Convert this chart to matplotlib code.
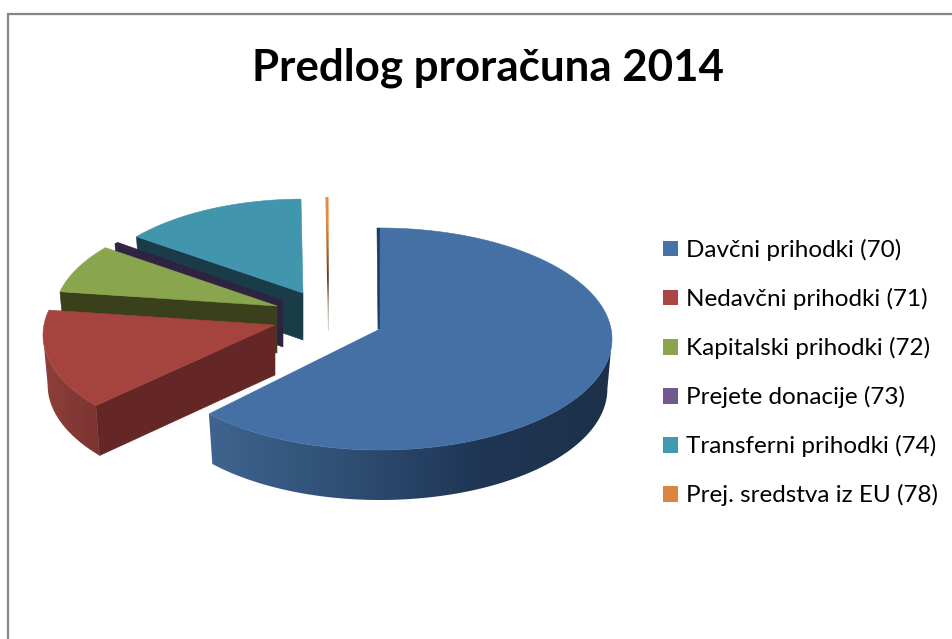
import numpy as np
import matplotlib
matplotlib.use("Agg")
import matplotlib.pyplot as plt
from matplotlib.colors import LinearSegmentedColormap
from matplotlib.patches import Patch, Polygon

title = "Predlog proračuna 2014"
labels = ["Davčni prihodki (70)", "Nedavčni prihodki (71)", "Kapitalski prihodki (72)",
          "Prejete donacije (73)", "Transferni prihodki (74)", "Prej. sredstva iz EU (78)"]
shares = [63.2, 15.4, 7.4, 0.3, 13.55, 0.15]

colors = ["#4572a7", "#aa4643", "#89a54e", "#71588f", "#4198af", "#db843d"]
top_colors = ["#4470a5", "#a5443f", "#89a54e", "#2e2340", "#4195ad", "#e8883c"]
wall_colors = ["#1c3a5c", "#642725", "#3a3f1c", "#2e2340", "#1a3b48", "#cfc6bc"]
# left to right shading of the curved walls
blue_arc = ["#3f648f", "#2f4f74", "#1f3655", "#1c3048"]
red_arc = ["#8f3f3b", "#7b3431"]
orange_wall = ["#e8883c", "#e8883c", "#a8672c", "#5e3a18", "#b3a293", "#e4dfda"]

# exploded position of each slice tip, and the perspective scale of each slice
tip_x = [380, 275, 277, 283, 303, 328]
tip_y = [329, 325, 306, 301, 293, 291]
scale = [1.0, 1.0, 0.96, 0.94, 0.93, 0.93]
depth = [50, 50, 47, 46, 47, 40]
start_nudge = [0, 3, 0, 0, -1.2, 0]
draw_order = [4, 5, 3, 2, 1, 0]

rx, ry, lift = 232, 111, 10
bottom_shrink = 0.98


def ring(theta, i, drop=False):
    t = np.radians(theta)
    s = scale[i]
    x = s * rx * np.sin(t)
    y = s * (lift - ry * np.cos(t))
    if drop:
        return tip_x[i] + x * bottom_shrink, tip_y[i] + y + depth[i]
    return tip_x[i] + x, tip_y[i] + y


def shade(pts, stops, z, vertical=False):
    # smooth gradient clipped to a polygon
    pts = np.asarray(pts)
    cmap = LinearSegmentedColormap.from_list("wall", stops)
    grad = np.linspace(0, 1, 256).reshape(-1, 1) if vertical else np.linspace(0, 1, 256).reshape(1, -1)
    x_lo, x_hi = pts[:, 0].min(), pts[:, 0].max()
    y_lo, y_hi = pts[:, 1].min(), pts[:, 1].max()
    im = ax.imshow(grad, cmap=cmap, extent=(x_lo, x_hi, y_hi, y_lo), aspect="auto",
                   origin="upper", zorder=z, interpolation="bilinear")
    clip = Polygon(pts, closed=True, transform=ax.transData, fc="none", ec="none")
    ax.add_patch(clip)
    im.set_clip_path(clip)


fig = plt.figure(figsize=(9.53, 6.39), dpi=100)
ax = fig.add_axes([0, 0, 1, 1])
ax.axis("off")

ax.plot([8, 8, 953], [639, 14, 14], color="#868686", lw=1.6, solid_joinstyle="miter")

ends = np.cumsum(shares) / np.sum(shares) * 360
starts = np.r_[0, ends[:-1]] + np.array(start_nudge)

for i in draw_order:
    a, b = starts[i], ends[i]
    tx, ty = tip_x[i], tip_y[i]
    z = 4 + draw_order.index(i) * 3

    # wall along the clockwise start edge of the slice
    x0, y0 = ring(a, i)
    x1, y1 = ring(a, i, drop=True)
    wall = [(tx, ty), (x0, y0), (x1, y1), (tx, ty + depth[i])]
    if i == 0:
        wall = [(tx, ty), (x0, y0), (x0 - 3, y0), (tx - 2, ty)]
    if i == 5:
        xe, ye = ring(b, i)
        shade([(x0 - 0.5, y0), (xe + 0.5, ye), (tx + 1, ty + depth[i]), (tx, ty + depth[i])],
              orange_wall, z, vertical=True)
    else:
        ax.add_patch(Polygon(wall, closed=True, fc=wall_colors[i], ec=wall_colors[i], lw=0.4, zorder=z))

    # curved outer wall, only the part that faces the viewer
    lo, hi = max(a, 90), min(b, 270)
    if hi > lo and i in (0, 1):
        th = np.linspace(lo, hi, 200)
        ux, uy = ring(th, i)
        vx, vy = ring(th, i, drop=True)
        pts = np.column_stack([np.r_[ux, vx[::-1]], np.r_[uy, vy[::-1]]])
        shade(pts, blue_arc if i == 0 else red_arc, z + 1)

    # top face
    if i != 5:
        th = np.linspace(a, b, 200)
        ux, uy = ring(th, i)
        pts = np.column_stack([np.r_[tx, ux], np.r_[ty, uy]])
        ax.add_patch(Polygon(pts, closed=True, fc=top_colors[i], ec=top_colors[i], lw=0.4, zorder=z + 2))

ax.set_xlim(0, 953)
ax.set_ylim(639, 0)

ax.text(487.5, 80, title, fontsize=31.6, fontweight="bold", family="Lato", color="black",
        ha="center", va="baseline")

handles = [Patch(facecolor=c, edgecolor="none", label=l) for c, l in zip(colors, labels)]
leg = ax.legend(handles=handles, loc="upper left", bbox_to_anchor=(663, 239),
                bbox_transform=ax.transData, frameon=False, borderpad=0, borderaxespad=0,
                prop={"family": "Lato", "size": 17.5}, labelspacing=1.11,
                handlelength=0.617, handleheight=0.617, handletextpad=0.33)

plt.savefig("out.png", dpi=100)
